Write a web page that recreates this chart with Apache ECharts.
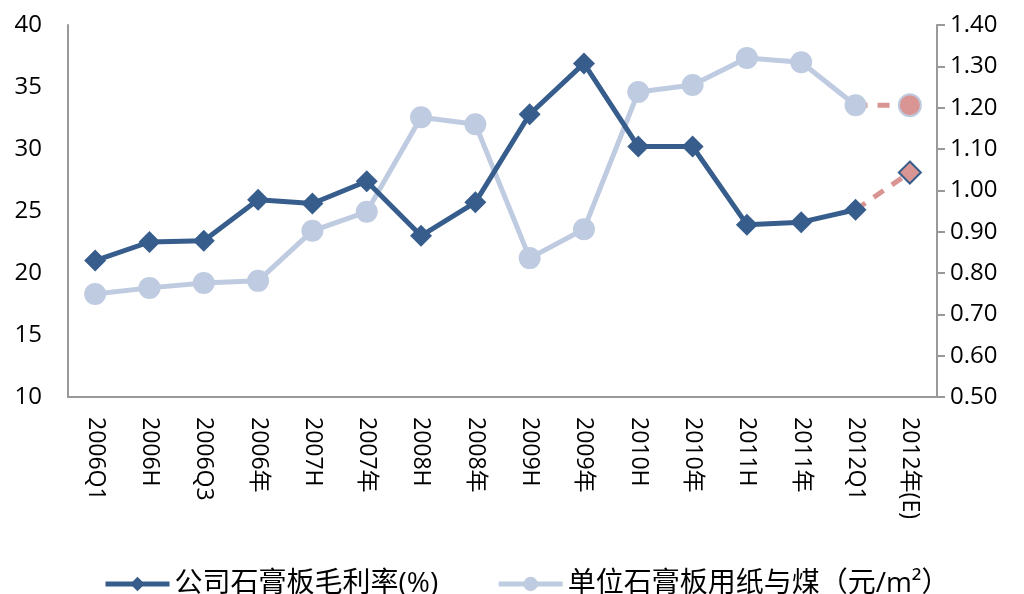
<!DOCTYPE html>
<html>
<head>
<meta charset="utf-8">
<script src="https://cdn.jsdelivr.net/npm/echarts@6/dist/echarts.min.js"></script>
<style>
html,body{margin:0;padding:0;background:#fff}
#main{width:1024px;height:594px}
</style>
</head>
<body>
<div id="main"></div>
<script>
let categories = ["2006Q1","2006H","2006Q3","2006年","2007H","2007年","2008H","2008年","2009H","2009年","2010H","2010年","2011H","2011年","2012Q1","2012年(E)"]
// 公司石膏板毛利率(%)
let margin = [21.0, 22.5, 22.6, 25.9, 25.6, 27.4, 23.0, 25.7, 32.8, 36.9, 30.2, 30.2, 23.9, 24.1, 25.1, 28.1]
// 单位石膏板用纸与煤（元/m²）
let cost = [0.749, 0.764, 0.776, 0.781, 0.902, 0.948, 1.177, 1.160, 0.836, 0.906, 1.238, 1.255, 1.320, 1.310, 1.206, 1.206]
let leftTicks = [10, 40, 5]
let rightTicks = [0.5, 1.4, 0.1]

let n = categories.length
// solid part stops at 2012Q1, the estimate is drawn dashed
let solid = arr => arr.map((v, i) => i < n - 1 ? v : '-')
let dashed = arr => arr.map((v, i) => i >= n - 2 ? v : '-')

let font = '"Open Sans", "Noto Sans CJK SC", sans-serif'
let dark = '#375d8c'
let light = '#bfcbe0'
let pink = '#d99594'

var myChart = echarts.init(document.getElementById('main'))
var option = {
    animation: false,
    grid: { left: 68, right: 87, top: 25, bottom: 197 },
    legend: {
        top: 565,
        left: 98,
        itemGap: 58,
        itemWidth: 64,
        itemHeight: 18,
        lineStyle: { width: 5 },
        textStyle: { fontSize: 28, color: '#000', fontFamily: font, padding: [0, 0, 0, 0] },
        data: ['公司石膏板毛利率(%)', '单位石膏板用纸与煤（元/m²）']
    },
    xAxis: {
        type: 'category',
        data: categories,
        boundaryGap: true,
        axisLine: { lineStyle: { color: '#999', width: 2 } },
        axisTick: { show: false },
        axisLabel: { rotate: -90, fontSize: 23, color: '#000', fontFamily: font, margin: 20, interval: 0 }
    },
    yAxis: [
        {
            type: 'value',
            min: leftTicks[0], max: leftTicks[1], interval: leftTicks[2],
            splitLine: { show: false },
            axisLine: { show: true, lineStyle: { color: '#999', width: 2 } },
            axisTick: { show: false },
            axisLabel: { fontSize: 24, color: '#000', fontFamily: font, margin: 26 }
        },
        {
            type: 'value',
            min: rightTicks[0], max: rightTicks[1], interval: rightTicks[2],
            splitLine: { show: false },
            axisLine: { show: true, lineStyle: { color: '#999', width: 2 } },
            axisTick: { show: true, length: 8, lineStyle: { color: '#999', width: 2 } },
            axisLabel: { fontSize: 24, color: '#000', fontFamily: font, margin: 13, formatter: v => v.toFixed(2) }
        }
    ],
    series: [
        {
            name: '单位石膏板用纸与煤（元/m²）',
            type: 'line',
            yAxisIndex: 1,
            data: solid(cost),
            symbol: 'circle',
            symbolSize: 22,
            lineStyle: { color: light, width: 5 },
            itemStyle: { color: light }
        },
        {
            name: 'cost-e',
            type: 'line',
            yAxisIndex: 1,
            data: dashed(cost).map((v, i) => i === n - 1 ? { value: v, symbol: 'circle', symbolSize: 22 } : { value: v, symbol: 'none' }),
            lineStyle: { color: pink, width: 5, type: [12, 10] },
            itemStyle: { color: pink, borderColor: light, borderWidth: 2 },
            z: 1
        },
        {
            name: '公司石膏板毛利率(%)',
            type: 'line',
            data: solid(margin),
            symbol: 'diamond',
            symbolSize: [22, 22],
            lineStyle: { color: dark, width: 5 },
            itemStyle: { color: dark },
            z: 3
        },
        {
            name: 'margin-e',
            type: 'line',
            data: dashed(margin).map((v, i) => i === n - 1 ? { value: v, symbol: 'diamond', symbolSize: 22 } : { value: v, symbol: 'none' }),
            lineStyle: { color: pink, width: 5, type: [12, 10] },
            itemStyle: { color: pink, borderColor: dark, borderWidth: 2 },
            z: 2
        }
    ]
}
myChart.setOption(option)
</script>
</body>
</html>
